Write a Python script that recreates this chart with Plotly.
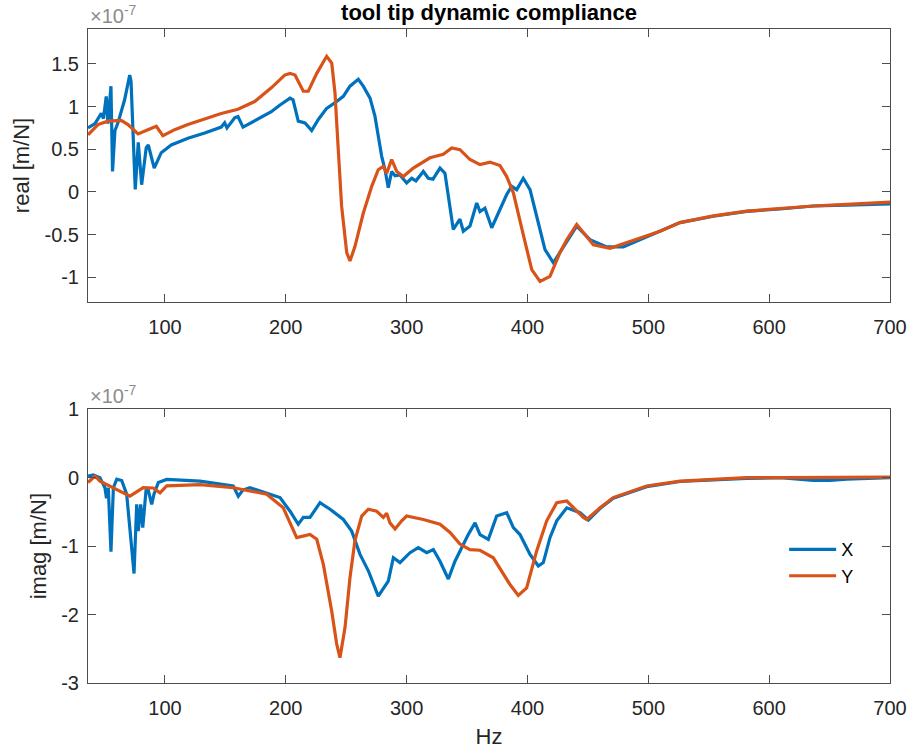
import plotly.graph_objects as go

# ---------------- data (values in units of 1e-7 m/N) ----------------
SCALE = 1e-7

freq_real_x = [36.3, 42.1, 47.3, 49.1, 51.4, 52.8, 55.3, 56.6, 58.6, 61.1, 66.6, 70.8, 71.9, 73.5, 75.4,
               77.9, 80.7, 84.5, 86.2, 91.1, 96.9, 105.2, 119.0, 132.9, 146.6, 149.4, 151.3, 157.7,
               160.4, 164.6, 174.2, 188.0, 195.2, 203.5, 206.0, 210.3, 215.9, 221.4, 226.9, 233.8,
               242.1, 247.6, 253.1, 260.0, 264.1, 269.7, 273.8, 276.5, 279.3, 282.1, 284.8, 287.6,
               290.4, 294.5, 300.0, 304.2, 307.7, 313.8, 317.9, 321.8, 327.6, 331.7, 333.4, 337.3,
               338.6, 344.1, 346.9, 352.4, 358.0, 360.7, 364.8, 370.4, 377.2, 382.8, 386.9, 391.1,
               396.5, 402.1, 407.6, 414.5, 421.4, 429.7, 440.7, 451.7, 465.6, 479.3, 509.7, 526.2,
               553.8, 581.4, 609.0, 636.5, 664.2, 700.0]
real_x = [0.75, 0.80, 0.92, 0.86, 1.12, 0.80, 1.24, 0.24, 0.72, 0.81, 1.08, 1.37, 1.30, 0.69, 0.03,
          0.58, 0.085, 0.52, 0.55, 0.28, 0.46, 0.55, 0.63, 0.69, 0.76, 0.81, 0.75, 0.87,
          0.885, 0.76, 0.83, 0.94, 1.02, 1.10, 1.08, 0.83, 0.81, 0.72, 0.85, 0.98,
          1.06, 1.12, 1.24, 1.32, 1.24, 1.10, 0.885, 0.65, 0.42, 0.26, 0.05, 0.24,
          0.19, 0.20, 0.105, 0.16, 0.13, 0.24, 0.16, 0.15, 0.28, 0.22, 0.05, -0.30,
          -0.44, -0.32, -0.46, -0.40, -0.13, -0.23, -0.19, -0.42, -0.21, -0.03, 0.066, 0.027,
          0.16, 0.027, -0.285, -0.675, -0.83, -0.64, -0.40, -0.56, -0.645, -0.645, -0.46, -0.36,
          -0.285, -0.227, -0.20, -0.165, -0.155, -0.14]

freq_real_y = [36.3, 44.6, 52.8, 63.8, 69.4, 77.7, 85.9, 92.8, 98.3, 108.0, 119.0, 132.9, 146.6, 160.4,
               174.2, 188.0, 199.1, 203.5, 207.6, 214.5, 218.6, 225.6, 233.8, 238.0, 240.7, 243.4,
               246.2, 250.4, 253.1, 257.2, 264.1, 271.1, 276.5, 280.7, 283.5, 287.6, 291.8, 297.2,
               305.5, 319.3, 330.3, 337.3, 344.1, 352.4, 360.7, 369.0, 377.2, 382.8, 388.3, 396.5,
               403.5, 410.4, 418.6, 426.9, 432.5, 440.7, 454.5, 468.3, 509.7, 526.2, 553.8, 581.4,
               609.0, 636.5, 664.2, 700.0]
real_y = [0.67, 0.79, 0.83, 0.84, 0.79, 0.68, 0.73, 0.77, 0.66, 0.73, 0.79, 0.855, 0.92, 0.97,
          1.06, 1.22, 1.37, 1.39, 1.37, 1.18, 1.18, 1.39, 1.59, 1.51, 1.16, 0.50,
          -0.17, -0.71, -0.81, -0.64, -0.25, 0.066, 0.26, 0.30, 0.22, 0.38, 0.24, 0.18,
          0.28, 0.40, 0.44, 0.515, 0.495, 0.38, 0.32, 0.35, 0.31, 0.18, -0.01, -0.50,
          -0.91, -1.05, -0.99, -0.71, -0.56, -0.38, -0.62, -0.66, -0.46, -0.36, -0.28, -0.225,
          -0.195, -0.165, -0.145, -0.12]

freq_imag_x = [36.3, 40.7, 46.2, 50.3, 51.6, 53.1, 55.3, 57.3, 60.1, 64.2, 68.3, 72.4, 74.4, 76.6,
               77.9, 79.9, 81.6, 84.3, 86.0, 89.0, 90.9, 94.5, 101.4, 129.0, 156.5, 160.7, 164.5,
               170.3, 184.2, 195.2, 203.5, 210.3, 214.5, 220.0, 228.3, 236.6, 247.6, 254.5, 261.4,
               268.3, 276.5, 280.7, 284.8, 289.0, 294.5, 302.8, 309.6, 316.6, 322.1, 327.6, 334.5,
               340.0, 345.6, 351.0, 356.6, 360.7, 367.6, 374.5, 382.8, 388.3, 393.8, 402.1, 409.0,
               413.1, 418.6, 424.2, 432.5, 443.5, 450.4, 460.0, 471.0, 498.6, 526.2, 553.8, 581.4,
               609.0, 625.5, 636.5, 650.3, 664.2, 700.0]
imag_x = [0.025, 0.04, 0.0, -0.146, -0.30, -0.146, -1.08, -0.146, -0.02, -0.04, -0.24, -0.97, -1.40, -0.39,
          -0.78, -0.39, -0.73, -0.19, -0.17, -0.39, -0.24, -0.07, -0.025, -0.05, -0.12, -0.27, -0.18,
          -0.146, -0.22, -0.29, -0.49, -0.68, -0.58, -0.58, -0.365, -0.46, -0.61, -0.78, -1.12,
          -1.36, -1.73, -1.61, -1.51, -1.17, -1.24, -1.095, -1.02, -1.095, -1.05, -1.22, -1.48,
          -1.22, -1.02, -0.83, -0.66, -0.83, -0.90, -0.56, -0.51, -0.73, -0.83, -1.12, -1.29,
          -1.24, -0.876, -0.63, -0.44, -0.51, -0.62, -0.45, -0.30, -0.13, -0.055, -0.03, -0.01,
          0.0, -0.02, -0.04, -0.04, -0.02, 0.0]

freq_imag_y = [36.3, 42.1, 46.2, 60.1, 71.0, 82.0, 90.3, 95.9, 101.4, 129.0, 156.5, 184.2, 197.9, 209.0,
               220.0, 225.6, 231.1, 238.0, 242.1, 244.8, 249.0, 253.1, 257.2, 262.8, 268.3, 275.2,
               280.7, 283.5, 286.2, 290.4, 295.9, 300.0, 313.8, 327.6, 335.9, 344.1, 352.4, 360.7,
               371.7, 385.5, 392.4, 399.3, 407.6, 415.9, 424.2, 432.5, 446.2, 449.0, 460.0, 471.0,
               498.6, 526.2, 553.8, 581.4, 609.0, 636.5, 700.0]
imag_y = [-0.07, 0.025, -0.05, -0.17, -0.27, -0.146, -0.15, -0.22, -0.12, -0.10, -0.146, -0.24, -0.44, -0.876,
          -0.83, -0.90, -1.27, -1.95, -2.43, -2.63, -2.19, -1.46, -0.92, -0.56, -0.46, -0.49,
          -0.58, -0.52, -0.66, -0.75, -0.63, -0.56, -0.61, -0.68, -0.80, -0.97, -1.05, -1.06,
          -1.17, -1.56, -1.72, -1.61, -1.07, -0.63, -0.365, -0.34, -0.58, -0.61, -0.44, -0.29,
          -0.12, -0.05, -0.025, 0.0, 0.0, 0.0, 0.01]

x_ticks = [100, 200, 300, 400, 500, 600, 700]
real_ticks = [-1, -0.5, 0, 0.5, 1, 1.5]
real_tick_text = ["-1", "-0.5", "0", "0.5", "1", "1.5"]
imag_ticks = [-3, -2, -1, 0, 1]
imag_tick_text = ["-3", "-2", "-1", "0", "1"]
series_names = ["X", "Y"]
series_colors = ["#0072BD", "#D95319"]

# ---------------- figure ----------------
FONT = "Liberation Sans, Arial, Helvetica, sans-serif"
TXT = "#262626"
AX = "#4d4d4d"

fig = go.Figure()
fig.add_trace(go.Scatter(x=freq_real_x, y=[v * SCALE for v in real_x], mode="lines",
                         line=dict(color=series_colors[0], width=3.2), name=series_names[0],
                         xaxis="x", yaxis="y", showlegend=False))
fig.add_trace(go.Scatter(x=freq_real_y, y=[v * SCALE for v in real_y], mode="lines",
                         line=dict(color=series_colors[1], width=3.2), name=series_names[1],
                         xaxis="x", yaxis="y", showlegend=False))
fig.add_trace(go.Scatter(x=freq_imag_x, y=[v * SCALE for v in imag_x], mode="lines",
                         line=dict(color=series_colors[0], width=3.2), name=series_names[0],
                         xaxis="x2", yaxis="y2"))
fig.add_trace(go.Scatter(x=freq_imag_y, y=[v * SCALE for v in imag_y], mode="lines",
                         line=dict(color=series_colors[1], width=3.2), name=series_names[1],
                         xaxis="x2", yaxis="y2"))

common_axis = dict(showline=True, linecolor=AX, linewidth=1, mirror="ticks", ticks="inside",
                   ticklen=8, tickcolor=AX, tickwidth=1, showgrid=False, zeroline=False,
                   automargin=False,
                   tickfont=dict(family=FONT, size=20, color=TXT))

fig.update_layout(
    width=912, height=755,
    margin=dict(l=88, r=22, t=29, b=72),
    paper_bgcolor="white", plot_bgcolor="white",
    font=dict(family=FONT, color=TXT),
    title=dict(text="<b>tool tip dynamic compliance</b>", x=0.5, xref="paper", xanchor="center",
               y=1 - 12 / 755, yref="container", yanchor="middle",
               font=dict(family=FONT, size=22, color="#000000")),
    xaxis=dict(domain=[0, 1], range=[36.3, 700], tickvals=x_ticks, anchor="y",
               ticklabelstandoff=7, **common_axis),
    yaxis=dict(domain=[0.5826, 1], range=[-1.29 * SCALE, 1.91 * SCALE],
               tickvals=[t * SCALE for t in real_ticks], ticktext=real_tick_text, anchor="x",
               title=dict(text="real [m/N]", font=dict(family=FONT, size=22, color=TXT), standoff=8),
               ticklabelstandoff=4, **common_axis),
    xaxis2=dict(domain=[0, 1], range=[36.3, 700], tickvals=x_ticks, anchor="y2",
                ticklabelstandoff=7,
                title=dict(text="Hz", font=dict(family=FONT, size=22, color=TXT), standoff=10),
                **common_axis),
    yaxis2=dict(domain=[0, 0.4185], range=[-3 * SCALE, 1 * SCALE],
                tickvals=[t * SCALE for t in imag_ticks], ticktext=imag_tick_text, anchor="x2",
                title=dict(text="imag [m/N]", font=dict(family=FONT, size=22, color=TXT), standoff=8),
                ticklabelstandoff=4, **common_axis),
    legend=dict(x=0.868, y=0.184, xanchor="left", yanchor="middle", bgcolor="rgba(0,0,0,0)",
                borderwidth=0, itemwidth=47, tracegroupgap=0,
                font=dict(family=FONT, size=18, color="#000000")),
)

# exponent labels (MATLAB style)
fig.add_annotation(text="×10<sup>-7</sup>", xref="paper", yref="paper", x=0.0, y=1.0,
                   xanchor="left", yanchor="bottom", showarrow=False,
                   font=dict(family=FONT, size=20, color="#8c8c8c"))
fig.add_annotation(text="×10<sup>-7</sup>", xref="paper", yref="paper", x=0.0, y=0.4185,
                   xanchor="left", yanchor="bottom", showarrow=False,
                   font=dict(family=FONT, size=20, color="#8c8c8c"))

fig.write_html("out.html")
